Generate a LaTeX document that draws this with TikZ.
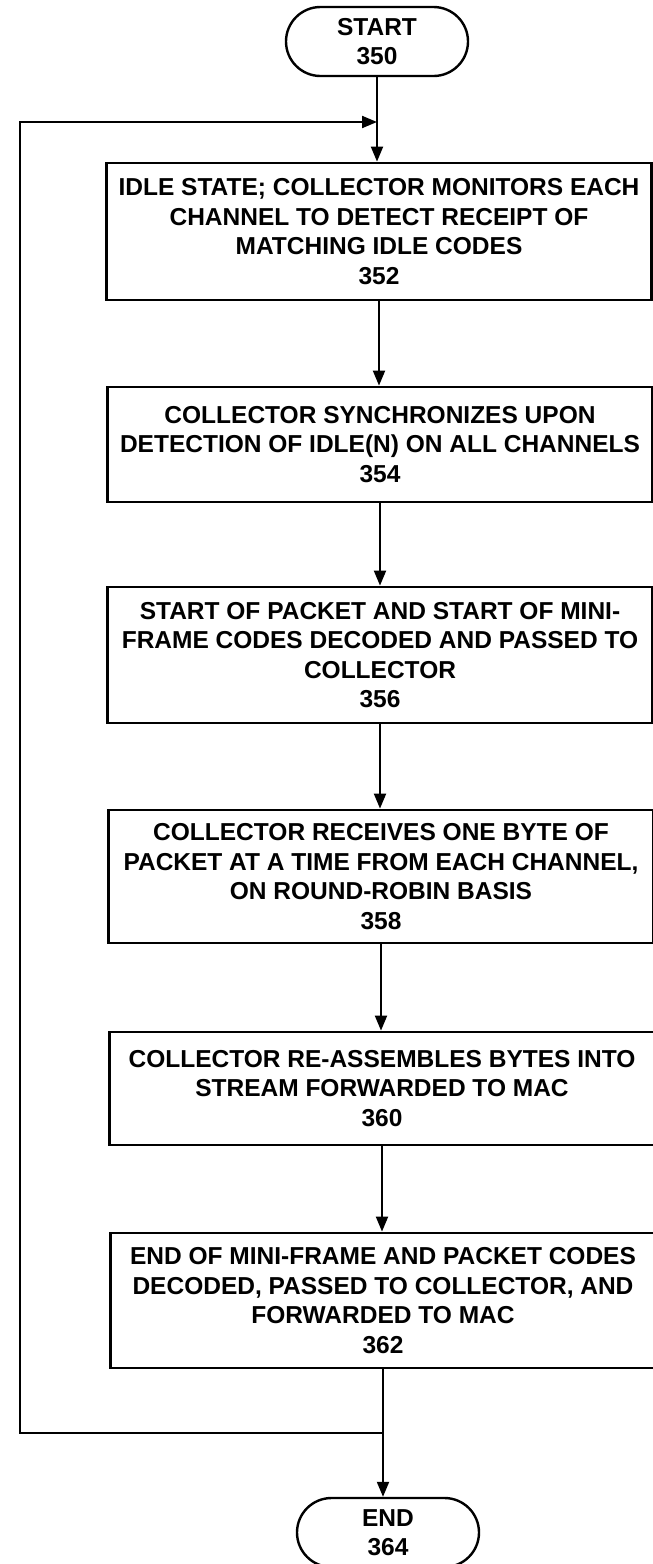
\documentclass[tikz,border=0pt]{standalone}
\usepackage{fontspec}
\setmainfont{Liberation Sans}
\usetikzlibrary{shapes.misc,arrows.meta}

\tikzset{
    proc box/.style={rectangle,draw,line width=2.8pt,align=center,minimum width=545pt,inner sep=1pt},
    term node/.style={rounded rectangle,draw,line width=2.4pt,align=center,minimum width=184pt,minimum height=69pt,inner sep=1pt},
    flow/.style={line width=2pt,-{Triangle[length=15pt,width=12pt]}}
    }

\begin{document}
\begin{tikzpicture}[x=1pt,y=-1pt,font=\fontsize{24.5}{29.5}\selectfont\bfseries]
                \useasboundingbox (0,0) rectangle (653,1564);
                \node(start)[term node] at (377,41.5){START\\350};
                \node(idle)[proc box, minimum height=137pt] at (379,231.5){IDLE STATE; COLLECTOR MONITORS EACH\\CHANNEL TO DETECT RECEIPT OF\\MATCHING IDLE CODES\\352};
                \node(sync)[proc box, minimum height=115pt] at (380,444.5){COLLECTOR SYNCHRONIZES UPON\\DETECTION OF IDLE(N) ON ALL CHANNELS\\354};
                \node(sop)[proc box, minimum height=136pt] at (380,655){START OF PACKET AND START OF MINI-\\FRAME CODES DECODED AND PASSED TO\\COLLECTOR\\356};
                \node(recv)[proc box, minimum height=133pt] at (381,876.5){COLLECTOR RECEIVES ONE BYTE OF\\PACKET AT A TIME FROM EACH CHANNEL,\\ON ROUND-ROBIN BASIS\\358};
                \node(reasm)[proc box, minimum height=113pt] at (382,1088.5){COLLECTOR RE-ASSEMBLES BYTES INTO\\STREAM FORWARDED TO MAC\\360};
                \node(eop)[proc box, minimum height=135pt] at (383,1300.5){END OF MINI-FRAME AND PACKET CODES\\DECODED, PASSED TO COLLECTOR, AND\\FORWARDED TO MAC\\362};
                \node(finish)[term node] at (388,1532.5){END\\364};
                % loop back points
                \coordinate(entry) at (start.south |- 0,122);
                \coordinate(merge) at (eop.south |- 0,1433);
                \coordinate(loopbot) at (20,1433);
                \coordinate(looptop) at (20,122);
                \draw[flow] (start.south) -- (idle.north -| start.south);
                \draw[flow] (idle.south) -- (idle.south |- sync.north);
                \draw[flow] (sync.south) -- (sync.south |- sop.north);
                \draw[flow] (sop.south) -- (sop.south |- recv.north);
                \draw[flow] (recv.south) -- (recv.south |- reasm.north);
                \draw[flow] (reasm.south) -- (reasm.south |- eop.north);
                \draw[flow] (eop.south) -- (eop.south |- finish.north);
                \draw[flow] (merge) -- (loopbot) -- (looptop) -- (entry);
            \end{tikzpicture}
\end{document}
